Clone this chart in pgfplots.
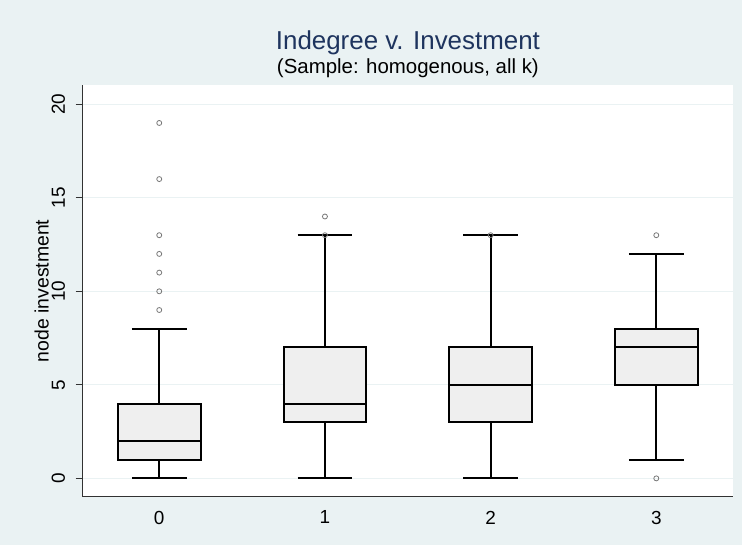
\documentclass[border=0pt]{standalone}
\usepackage{fontspec}
\setmainfont{Liberation Sans}
\usepackage{pgfplots}
\pgfplotsset{compat=1.18}
\usepgfplotslibrary{statistics}
\definecolor{bgc}{RGB}{234,242,243}
\definecolor{titc}{RGB}{30,52,94}
\definecolor{boxf}{RGB}{239,239,239}
\definecolor{outc}{RGB}{120,120,120}
\definecolor{axc}{RGB}{50,50,50}
\begin{document}
\begin{tikzpicture}
\fill[bgc] (-82.7bp,-48.3bp) rectangle (659.3bp,496.7bp);
\useasboundingbox (-82.7bp,-48.3bp) rectangle (659.3bp,496.7bp);
\begin{axis}[
 at={(0,0)}, anchor=south west, scale only axis,
 width=650.3bp, height=411.7bp,
 xmin=-0.462, xmax=3.463, ymin=-0.98, ymax=21.03,
 axis x line*=bottom, axis y line*=left,
 axis line style={-, draw=axc, line width=0.9bp},
 axis background/.style={fill=white},
 xtick={0,1,2,3}, ytick={0,5,10,15,20},
 x tick style={draw=none},
 y tick style={draw=axc, line width=0.9bp},
 tick align=outside, major tick length=7bp,
 ymajorgrids, grid style={draw=bgc, line width=1bp},
 ticklabel style={font=\fontsize{19}{22}\selectfont, text=black},
 /pgf/number format/assume math mode=true,
 yticklabel style={rotate=90, anchor=south, inner sep=0pt},
 yticklabel shift=10.5bp,
 xticklabel style={anchor=north, inner sep=0pt},
 xticklabel shift=7bp,
 boxplot/draw direction=y,
 boxplot/box extend=0.5,
 boxplot/whisker extend=0.33,
 boxplot/every box/.style={draw=black, fill=boxf, line width=2bp},
 boxplot/every whisker/.style={draw=black, line width=2bp},
 boxplot/every median/.style={draw=black, line width=2bp},
]
\addplot[boxplot prepared={draw position=0, lower whisker=0, lower quartile=1, median=2, upper quartile=4, upper whisker=8},
  mark=o, mark size=2.5bp, mark options={draw=outc, line width=0.8bp}]
  table[row sep=\\, y index=0] {data\\ 9\\ 10\\ 11\\ 12\\ 13\\ 16\\ 19\\};
\addplot[boxplot prepared={draw position=1, lower whisker=0, lower quartile=3, median=4, upper quartile=7, upper whisker=13},
  mark=o, mark size=2.5bp, mark options={draw=outc, line width=0.8bp}]
  table[row sep=\\, y index=0] {data\\ 13\\ 14\\};
\addplot[boxplot prepared={draw position=2, lower whisker=0, lower quartile=3, median=5, upper quartile=7, upper whisker=13},
  mark=o, mark size=2.5bp, mark options={draw=outc, line width=0.8bp}]
  table[row sep=\\, y index=0] {data\\ 13\\};
\addplot[boxplot prepared={draw position=3, lower whisker=1, lower quartile=5, median=7, upper quartile=8, upper whisker=12},
  mark=o, mark size=2.5bp, mark options={draw=outc, line width=0.8bp}]
  table[row sep=\\, y index=0] {data\\ 0\\ 13\\};
\end{axis}
\node[rotate=90, anchor=base, font=\fontsize{19.5}{22}\selectfont] at (-34.2bp,205.8bp) {node investment};
\node[anchor=base, font=\fontsize{26}{30}\selectfont, text=titc] at (325.2bp,447.4bp) {Indegree v. Investment};
\node[anchor=base, font=\fontsize{20.5}{24}\selectfont] at (325.2bp,423.4bp) {(Sample: homogenous, all k)};
\end{tikzpicture}
\end{document}
